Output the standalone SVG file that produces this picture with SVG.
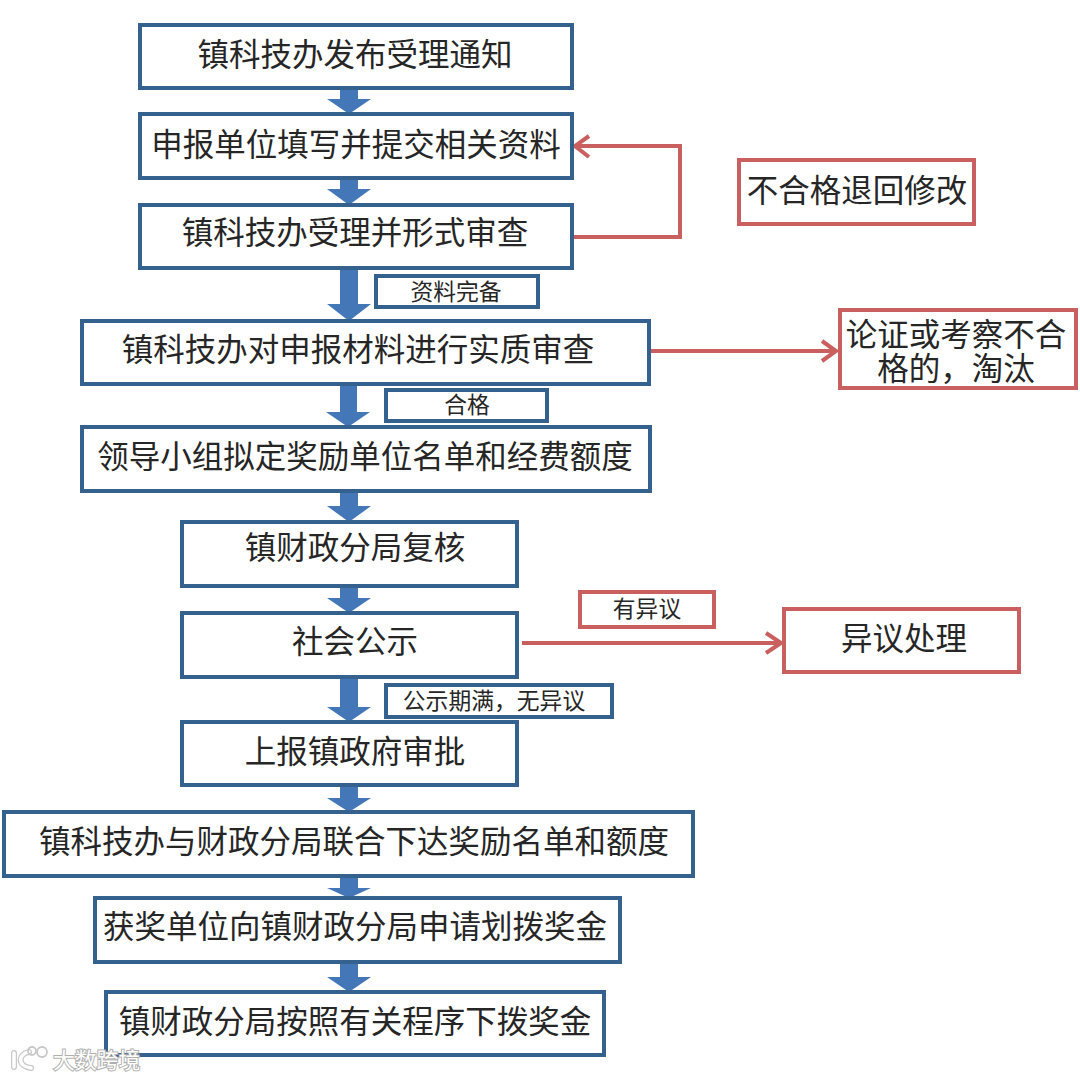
<svg xmlns="http://www.w3.org/2000/svg" width="1080" height="1080" viewBox="0 0 1080 1080">
<defs>
<style>
text{font-family:"Noto Sans CJK SC","Noto Sans",sans-serif;fill:#262626;text-anchor:middle}
.t{font-size:31.5px}
.s{font-size:22.8px}
.b{fill:#fff;stroke:#35618f;stroke-width:4}
.r{fill:#fff;stroke:#c9605f;stroke-width:4}
.blk{fill:#4477b8}
.rl{fill:none;stroke:#c9605f;stroke-width:4}
.wm{font-size:21.8px;fill:#fff;stroke:#b0b0b0;stroke-width:2;paint-order:stroke;text-anchor:start}
.lo{fill:none;stroke:#c8c8c8;stroke-width:6;stroke-linecap:round}
.li{fill:none;stroke:#fff;stroke-width:3.5;stroke-linecap:round}
</style>
</defs>
<rect width="1080" height="1080" fill="#fff"/>
<g id="connectors">
<path class="blk" d="M340 88h18v11h13l-22 15l-22-15h13z"/>
<path class="blk" d="M340 178h18v11h13l-22 16l-22-16h13z"/>
<path class="blk" d="M340 268h18v36h13l-22 17l-22-17h13z"/>
<path class="blk" d="M340 384h17v28h13l-22 15l-22-15h14z"/>
<path class="blk" d="M340 491h18v15h13l-22 16l-22-16h13z"/>
<path class="blk" d="M340 586h18v12h13l-22 15l-22-15h13z"/>
<path class="blk" d="M340 677h18v30h13l-22 15l-22-15h13z"/>
<path class="blk" d="M340 785h18v13h13l-22 14l-22-14h13z"/>
<path class="blk" d="M340 876h18v12h13l-22 10l-22-10h13z"/>
<path class="blk" d="M340 962h18v15h13l-22 15l-22-15h13z"/>
<path class="rl" d="M572 237H680V146H576"/>
<path class="rl" d="M589 136L575 146L589 157"/>
<path class="rl" d="M650 351H835"/>
<path class="rl" d="M822 341L836 351L822 361"/>
<path class="rl" d="M522 643H780"/>
<path class="rl" d="M766 633L781 643L766 653"/>
</g>
<g id="n1"><rect class="b" x="140" y="25" width="432" height="63"/><text class="t" x="355" y="66">镇科技办发布受理通知</text></g>
<g id="n2"><rect class="b" x="140" y="114" width="432" height="64"/><text class="t" x="356" y="156">申报单位填写并提交相关资料</text></g>
<g id="n3"><rect class="b" x="140" y="205" width="432" height="63"/><text class="t" x="355" y="244">镇科技办受理并形式审查</text></g>
<g id="n4"><rect class="b" x="82" y="321" width="567" height="63"/><text class="t" x="358" y="361">镇科技办对申报材料进行实质审查</text></g>
<g id="n5"><rect class="b" x="82" y="427" width="568" height="64"/><text class="t" x="365" y="468">领导小组拟定奖励单位名单和经费额度</text></g>
<g id="n6"><rect class="b" x="182" y="522" width="335" height="64"/><text class="t" x="355" y="559">镇财政分局复核</text></g>
<g id="n7"><rect class="b" x="182" y="613" width="335" height="64"/><text class="t" x="355" y="653">社会公示</text></g>
<g id="n8"><rect class="b" x="182" y="722" width="335" height="63"/><text class="t" x="355" y="763">上报镇政府审批</text></g>
<g id="n9"><rect class="b" x="4" y="812" width="689" height="64"/><text class="t" x="354" y="853">镇科技办与财政分局联合下达奖励名单和额度</text></g>
<g id="n10"><rect class="b" x="95" y="898" width="525" height="64"/><text class="t" x="355" y="938">获奖单位向镇财政分局申请划拨奖金</text></g>
<g id="n11"><rect class="b" x="106" y="992" width="498" height="63"/><text class="t" x="355" y="1033">镇财政分局按照有关程序下拨奖金</text></g>
<g id="l1"><rect class="b" x="376" y="276" width="162" height="31"/><text class="s" x="456" y="300">资料完备</text></g>
<g id="l2"><rect class="b" x="386" y="390" width="161" height="31"/><text class="s" x="467" y="413">合格</text></g>
<g id="l3"><rect class="b" x="386" y="685" width="226" height="32"/><text class="s" x="494" y="709">公示期满，无异议</text></g>
<g id="l4"><rect class="r" x="580" y="592" width="134" height="35"/><text class="s" x="647" y="617">有异议</text></g>
<g id="r1"><rect class="r" x="739" y="160" width="235" height="64"/><text class="t" x="857" y="202">不合格退回修改</text></g>
<g id="r2"><rect class="r" x="840" y="310" width="236" height="78"/><text class="t" x="956" y="346">论证或考察不合</text><text class="t" x="956" y="380">格的，淘汰</text></g>
<g id="r3"><rect class="r" x="784" y="609" width="235" height="63"/><text class="t" x="904" y="650">异议处理</text></g>
<g id="watermark">
<path class="lo" d="M14 1053V1067M29 1052C18 1054 17 1066 31 1068"/>
<path class="li" d="M14 1053V1067M29 1052C18 1054 17 1066 31 1068"/>
<circle cx="32" cy="1051" r="4" fill="none" stroke="#c8c8c8" stroke-width="1.8"/>
<circle cx="42" cy="1052" r="5" fill="none" stroke="#c8c8c8" stroke-width="1.8"/>
<text class="wm" x="53" y="1068">大数跨境</text>
</g>
</svg>
